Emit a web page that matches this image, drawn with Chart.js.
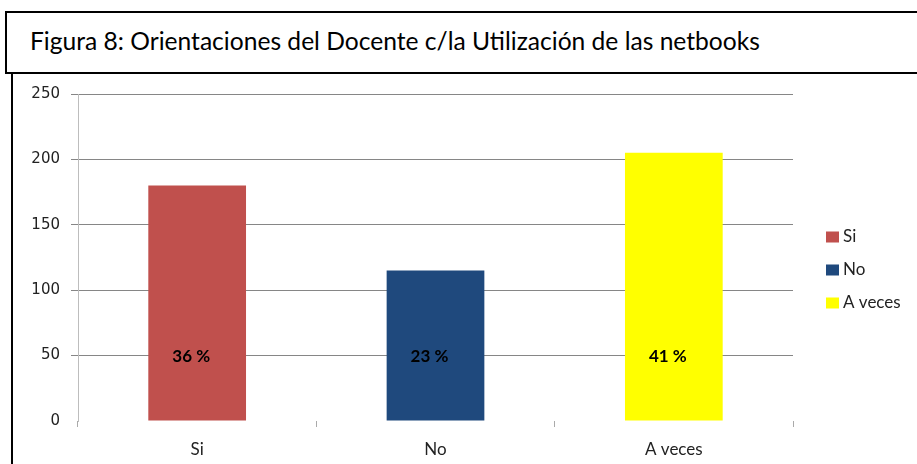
<!DOCTYPE html>
<html>
<head>
<meta charset="utf-8">
<script src="https://cdn.jsdelivr.net/npm/chart.js@4.4.0/dist/chart.umd.min.js"></script>
<style>
    body { margin: 0; background: #fff; width: 917px; height: 464px; overflow: hidden; position: relative; }
    #titulo {
        position: absolute; left: 5px; top: 11px; width: 920px; height: 59px;
        border: 2px solid #000; box-sizing: content-box;
        font-family: Lato, sans-serif; font-size: 24.6px; color: #000;
        line-height: 56px; padding-left: 23px;
    }
    #caixa {
        position: absolute; left: 11px; top: 72px; width: 910px; height: 400px;
        border-left: 2px solid #000;
    }
    #myChart { position: absolute; left: 14px; top: 74px; }
</style>
</head>
<body>
<div id="titulo">Figura 8: Orientaciones del Docente c/la Utilización de las netbooks</div>
<div id="caixa"></div>
<canvas id="myChart" width="903" height="390"></canvas>
<script>
const categorias = ['Si', 'No', 'A veces'];
const respostas = [180, 115, 205];
const porcentagens = ['36 %', '23 %', '41 %'];
const cores = ['#c0504d', '#1f497d', '#ffff00'];
const ticksY = [0, 50, 100, 150, 200, 250];

// rótulos dentro das barras
const rotulos = {
    id: 'rotulos',
    afterDatasetsDraw(chart) {
        const ctx = chart.ctx;
        const meta = chart.getDatasetMeta(0);
        const y = chart.scales.y.getPixelForValue(50);
        ctx.save();
        ctx.font = 'bold 17px Lato, sans-serif';
        ctx.fillStyle = '#000';
        ctx.textAlign = 'center';
        ctx.textBaseline = 'middle';
        meta.data.forEach((barra, i) => {
            ctx.fillText(porcentagens[i], barra.x - 6, y + 1);
        });
        ctx.restore();
    }
};

// legenda à direita
const legenda = {
    id: 'legenda',
    afterDraw(chart) {
        const ctx = chart.ctx;
        const area = chart.chartArea;
        const x = area.right + 33;
        const meio = (area.top + area.bottom) / 2 + 12;
        ctx.save();
        ctx.font = '17px Lato, sans-serif';
        ctx.textBaseline = 'middle';
        categorias.forEach((cat, i) => {
            const y = meio + (i - 1) * 33;
            ctx.fillStyle = cores[i];
            ctx.fillRect(x, y - 5, 13, 11);
            ctx.fillStyle = '#222';
            ctx.fillText(cat, x + 17, y);
        });
        ctx.restore();
    }
};

new Chart(document.getElementById('myChart'), {
    type: 'bar',
    data: {
        labels: categorias,
        datasets: [{
            data: respostas,
            backgroundColor: cores,
            categoryPercentage: 1,
            barPercentage: 0.41
        }]
    },
    options: {
        responsive: false,
        animation: false,
        layout: { padding: { left: 0, top: 20, right: 124, bottom: 0 } },
        plugins: {
            legend: { display: false },
            tooltip: { enabled: false }
        },
        scales: {
            y: {
                min: 0,
                max: 250,
                afterFit(scale) { scale.width = 64; },
                afterBuildTicks(scale) { scale.ticks = ticksY.map(v => ({ value: v })); },
                ticks: {
                    padding: 11,
                    color: '#222',
                    font: { family: 'DejaVu Sans', size: 15 }
                },
                grid: {
                    color: ctx => ctx.tick && ctx.tick.value === 0 ? 'rgba(0,0,0,0)' : '#868686',
                    tickLength: 7,
                    lineWidth: 1
                },
                border: { color: '#bdbdbd' }
            },
            x: {
                afterFit(scale) { scale.height = 43; },
                ticks: {
                    padding: 12,
                    color: '#222',
                    font: { family: 'Lato', size: 17 }
                },
                grid: {
                    drawOnChartArea: false,
                    color: '#aaaaaa',
                    tickLength: 6
                },
                border: { display: false }
            }
        }
    },
    plugins: [rotulos, legenda]
});
</script>
</body>
</html>
